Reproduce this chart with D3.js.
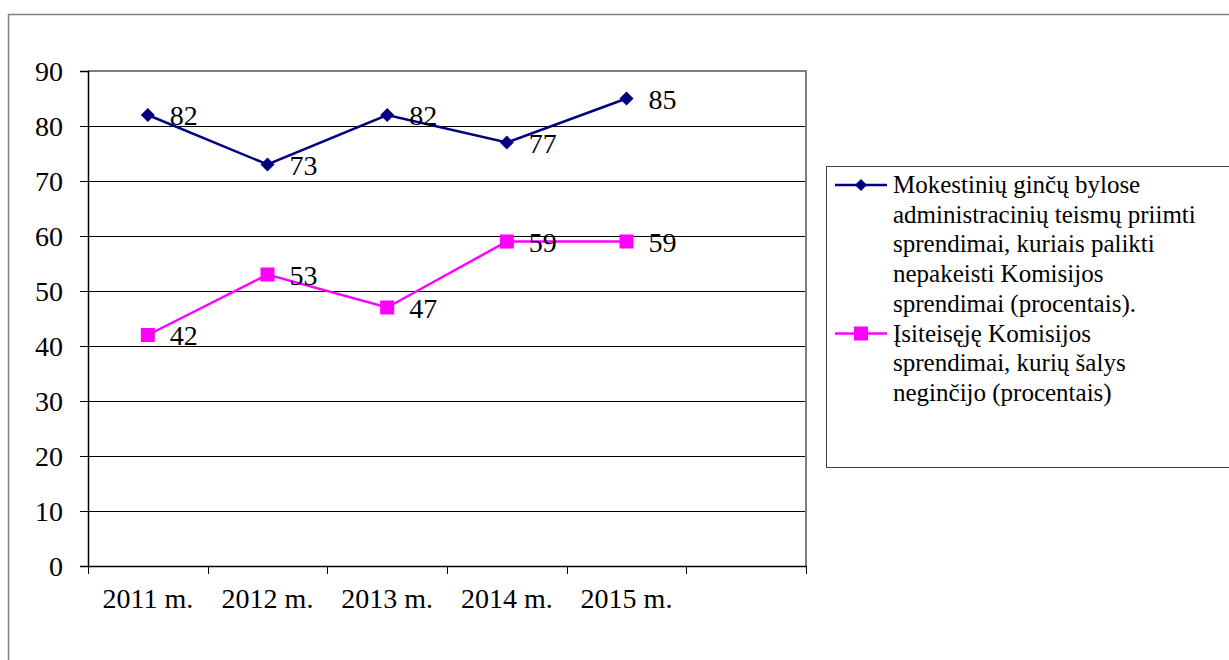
<!DOCTYPE html>
<html>
<head>
    <meta charset="utf-8">
    <script src="https://d3js.org/d3.v7.min.js"></script>
    <style>
        body { margin: 0; background: #fff; }
    </style>
</head>
<body>
    <script>
        const [width, height] = [1229, 660]
        const FONT = "Liberation Serif, Times New Roman, DejaVu Serif, serif";

        // data
        const categories = ["2011 m.", "2012 m.", "2013 m.", "2014 m.", "2015 m.", ""];
        const legendLines = [
            ["Mokestinių ginčų bylose", "administracinių teismų priimti", "sprendimai, kuriais palikti", "nepakeisti Komisijos", "sprendimai (procentais)."],
            ["Įsiteisęję Komisijos", "sprendimai, kurių šalys", "neginčijo (procentais)"]
        ];
        const seriesA = [82, 73, 82, 77, 85];
        const seriesB = [42, 53, 47, 59, 59];
        const yTicks = [0, 10, 20, 30, 40, 50, 60, 70, 80, 90];
        const colors = ["#000080", "#FF00FF"];

        const plot = {left: 88, top: 71, right: 806, bottom: 566};

        const svg = d3.select("body")
            .append("svg")
            .attr("width", width)
            .attr("height", height)
            .attr("font-family", FONT);

        // outer frame
        svg.append("rect")
            .attr("x", 8.5).attr("y", 14.5)
            .attr("width", 1240).attr("height", 700)
            .attr("fill", "none").attr("stroke", "#808080").attr("stroke-width", 1.5);

        const x = d3.scaleBand().domain(categories).range([plot.left, plot.right]);
        const y = d3.scaleLinear().domain([0, 90]).range([plot.bottom, plot.top]);

        // gridlines
        svg.append("g").selectAll("line")
            .data(yTicks.filter(d => d > 0 && d < 90))
            .enter().append("line")
            .attr("x1", plot.left).attr("x2", plot.right)
            .attr("y1", d => Math.round(y(d)) + 0.5).attr("y2", d => Math.round(y(d)) + 0.5)
            .attr("stroke", "#000").attr("stroke-width", 1);

        // plot border top and right (gray)
        svg.append("path")
            .attr("d", `M${plot.left},${plot.top} H${plot.right} V${plot.bottom}`)
            .attr("fill", "none").attr("stroke", "#808080").attr("stroke-width", 2);

        // y axis
        const yAxis = svg.append("g")
            .attr("transform", `translate(${plot.left},0)`)
            .call(d3.axisLeft(y).tickValues(yTicks).tickSize(8).tickPadding(17))
            .attr("font-family", FONT)
            .attr("font-size", 28);
        yAxis.select(".domain").attr("stroke", "#000").attr("stroke-width", 1.5);
        yAxis.selectAll(".tick line").attr("stroke", "#000");
        yAxis.selectAll("text")
            .attr("fill", "#000")
            .attr("dy", "0.34em");

        // x axis
        const xAxis = svg.append("g")
            .attr("transform", `translate(0,${plot.bottom})`)
            .call(d3.axisBottom(x).tickSize(0).tickPadding(22))
            .attr("font-family", FONT)
            .attr("font-size", 28);
        xAxis.select(".domain").attr("stroke", "#000").attr("stroke-width", 1.5);
        xAxis.selectAll("text").attr("fill", "#000");
        // category boundary ticks
        const bounds = categories.map(c => x(c)).concat([plot.right]);
        xAxis.selectAll(".bound")
            .data(bounds)
            .enter().append("line")
            .attr("class", "bound")
            .attr("x1", d => Math.round(d) + 0.5).attr("x2", d => Math.round(d) + 0.5)
            .attr("y1", 0).attr("y2", 8)
            .attr("stroke", "#000");

        const cx = i => x(categories[i]) + x.bandwidth() / 2;
        const line = d3.line().x((d, i) => cx(i)).y(d => y(d));

        const series = [seriesA, seriesB];
        series.forEach((vals, s) => {
            svg.append("path")
                .datum(vals)
                .attr("d", line)
                .attr("fill", "none")
                .attr("stroke", colors[s])
                .attr("stroke-width", 2.5);
        });

        // markers
        const diamond = (px, py, r) => `M${px},${py - r} L${px + r},${py} L${px},${py + r} L${px - r},${py} Z`;
        svg.append("g").selectAll("path")
            .data(seriesA)
            .enter().append("path")
            .attr("d", (d, i) => diamond(cx(i), y(d), 7))
            .attr("fill", colors[0]);
        svg.append("g").selectAll("rect")
            .data(seriesB)
            .enter().append("rect")
            .attr("x", (d, i) => cx(i) - 7).attr("y", d => y(d) - 7)
            .attr("width", 14).attr("height", 14)
            .attr("fill", colors[1]);

        // data labels
        series.forEach(vals => {
            svg.append("g").selectAll("text")
                .data(vals)
                .enter().append("text")
                .attr("x", (d, i) => cx(i) + 22)
                .attr("y", d => y(d) + 10)
                .attr("font-size", 28)
                .text(d => d);
        });

        // legend
        svg.append("rect")
            .attr("x", 826.5).attr("y", 166.5)
            .attr("width", 420).attr("height", 301)
            .attr("fill", "none").attr("stroke", "#404040").attr("stroke-width", 1);

        const lineH = 29.7;
        let row = 0;
        legendLines.forEach((lines, s) => {
            const ly = 185 + row * lineH;
            const g = svg.append("g");
            g.append("line")
                .attr("x1", 835).attr("x2", 887)
                .attr("y1", ly).attr("y2", ly)
                .attr("stroke", colors[s]).attr("stroke-width", 2.5);
            if (s === 0) {
                g.append("path").attr("d", diamond(861, ly, 6)).attr("fill", colors[0]);
            } else {
                g.append("rect").attr("x", 854).attr("y", ly - 7).attr("width", 14).attr("height", 14)
                    .attr("fill", colors[1]);
            }
            g.selectAll("text")
                .data(lines)
                .enter().append("text")
                .attr("x", 893)
                .attr("y", (d, i) => ly + 8 + i * lineH)
                .attr("font-size", 25)
                .text(d => d);
            row += lines.length;
        });
    </script>
</body>
</html>
